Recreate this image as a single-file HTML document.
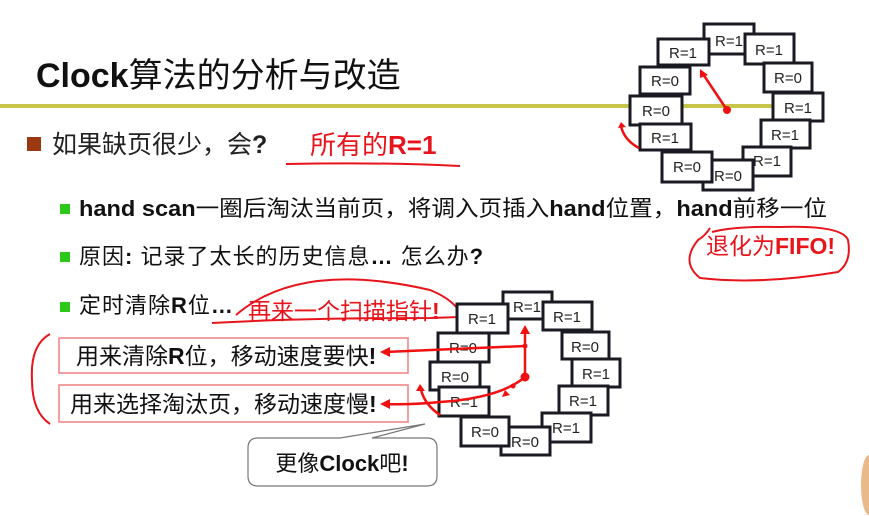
<!DOCTYPE html>
<html><head><meta charset="utf-8"><style>
body{margin:0;background:#fff;}
svg{display:block;font-family:"Liberation Sans","Noto Sans CJK SC",sans-serif;}
.b{fill:#fff;stroke:#1a1a22;stroke-width:3;}
.t{font-size:15px;fill:#222;text-anchor:middle;}
</style></head><body>
<svg width="869" height="516" viewBox="0 0 869 516">
<rect width="869" height="516" fill="#fff"/>
<text x="36" y="87" font-size="34" font-weight="bold" fill="#111">Clock<tspan font-weight="normal">算法的分析与改造</tspan></text>
<rect x="0" y="104" width="822" height="4" fill="#c7c54c"/>
<rect x="27" y="137" width="14" height="14" fill="#9b3a10"/>
<text x="52" y="153" font-size="25" fill="#222">如果缺页很少，会<tspan font-weight="bold">?</tspan></text>
<text x="310" y="154" font-size="26" fill="#e8141c">所有的<tspan font-weight="bold">R=1</tspan></text>
<path d="M286 164 Q380 162 460 166" stroke="#e8141c" stroke-width="2" fill="none"/>
<rect x="60" y="204" width="10" height="10" fill="#2ec81a"/>
<text x="79" y="216" font-size="22" fill="#111" textLength="748" lengthAdjust="spacingAndGlyphs"><tspan font-weight="bold">hand scan</tspan>一圈后淘汰当前页，将调入页插入<tspan font-weight="bold">hand</tspan>位置，<tspan font-weight="bold">hand</tspan>前移一位</text>
<rect x="60" y="252" width="10" height="10" fill="#2ec81a"/>
<text x="79" y="264" font-size="22" letter-spacing="1" fill="#111">原因<tspan font-weight="bold">:</tspan> 记录了太长的历史信息<tspan font-weight="bold">…</tspan> 怎么办<tspan font-weight="bold">?</tspan></text>
<rect x="60" y="302" width="10" height="10" fill="#2ec81a"/>
<text x="79" y="313" font-size="22" letter-spacing="1" fill="#111">定时清除<tspan font-weight="bold">R</tspan>位<tspan font-weight="bold">…</tspan></text>
<text x="248" y="319" font-size="23" fill="#e8141c">再来一个扫描指针<tspan font-weight="bold">!</tspan></text>
<path d="M236 315 Q300 260 430 290 Q455 300 462 316" stroke="#e8141c" stroke-width="2" fill="none"/>
<path d="M212 323 Q300 318 430 318 L460 317" stroke="#e8141c" stroke-width="2" fill="none"/>
<path d="M710 228 Q705 236 698 240 Q680 262 700 278 Q760 285 838 272 Q852 262 848 240 Q842 225 780 227 Q735 226 712 232" stroke="#e8141c" stroke-width="2" fill="none"/>
<text x="706" y="254" font-size="23" fill="#e8141c">退化为<tspan font-weight="bold">FIFO!</tspan></text>
<path d="M50 334 Q30 345 32 380 Q32 412 50 424" stroke="#e8141c" stroke-width="2" fill="none"/>
<rect x="59" y="338" width="349" height="35" fill="#fff" stroke="#f08080" stroke-width="1.5"/>
<text x="76" y="364" font-size="23" fill="#111">用来清除<tspan font-weight="bold">R</tspan>位，移动速度要快<tspan font-weight="bold">!</tspan></text>
<rect x="59" y="385" width="349" height="37" fill="#fff" stroke="#f08080" stroke-width="1.5"/>
<text x="70" y="412" font-size="23" fill="#111">用来选择淘汰页，移动速度慢<tspan font-weight="bold">!</tspan></text>
<path d="M258 438 L340 438 L425 424 L372 438 L427 438 Q437 438 437 448 L437 476 Q437 486 427 486 L258 486 Q248 486 248 476 L248 448 Q248 438 258 438Z" fill="#fff" stroke="#777" stroke-width="1.2"/>
<text x="342" y="471" font-size="22" fill="#111" text-anchor="middle">更像<tspan font-weight="bold">Clock</tspan>吧<tspan font-weight="bold">!</tspan></text>
<!-- top clock -->
<g>
<rect class="b" x="704" y="24" width="50" height="30"/><text class="t" x="729" y="46">R=1</text>
<rect class="b" x="745" y="34" width="49" height="30"/><text class="t" x="769" y="55">R=1</text>
<rect class="b" x="658" y="39" width="51" height="26"/><text class="t" x="683" y="58">R=1</text>
<rect class="b" x="640" y="67" width="50" height="27"/><text class="t" x="665" y="86">R=0</text>
<rect class="b" x="764" y="63" width="48" height="29"/><text class="t" x="788" y="83">R=0</text>
<rect class="b" x="630" y="96" width="52" height="29"/><text class="t" x="656" y="116">R=0</text>
<rect class="b" x="773" y="93" width="50" height="28"/><text class="t" x="798" y="113">R=1</text>
<rect class="b" x="640" y="124" width="51" height="26"/><text class="t" x="665" y="143">R=1</text>
<rect class="b" x="761" y="120" width="49" height="28"/><text class="t" x="785" y="140">R=1</text>
<rect class="b" x="743" y="147" width="48" height="29"/><text class="t" x="767" y="166">R=1</text>
<rect class="b" x="703" y="160" width="50" height="30"/><text class="t" x="728" y="181">R=0</text>
<rect class="b" x="662" y="152" width="50" height="30"/><text class="t" x="687" y="172">R=0</text>
<line x1="727" y1="110" x2="703" y2="74" stroke="#f01010" stroke-width="2.5"/>
<path d="M700 69 L708 75 L700 78Z" fill="#f01010"/>
<circle cx="727" cy="110" r="4" fill="#f01010"/>
<path d="M639 148 Q624 140 621 126" stroke="#f01010" stroke-width="2.5" fill="none"/>
<path d="M618 128 L621 122 L626 127Z" fill="#f01010"/>
</g>
<!-- bottom clock -->
<g>
<rect class="b" x="503" y="292" width="49" height="27"/><text class="t" x="527" y="312">R=1</text>
<rect class="b" x="543" y="302" width="49" height="28"/><text class="t" x="567" y="322">R=1</text>
<rect class="b" x="457" y="304" width="51" height="29"/><text class="t" x="482" y="324">R=1</text>
<rect class="b" x="438" y="333" width="51" height="29"/><text class="t" x="463" y="353">R=0</text>
<rect class="b" x="562" y="332" width="47" height="27"/><text class="t" x="585" y="352">R=0</text>
<rect class="b" x="430" y="362" width="50" height="28"/><text class="t" x="455" y="382">R=0</text>
<rect class="b" x="572" y="359" width="48" height="28"/><text class="t" x="596" y="379">R=1</text>
<rect class="b" x="439" y="387" width="50" height="29"/><text class="t" x="464" y="407">R=1</text>
<rect class="b" x="559" y="386" width="49" height="29"/><text class="t" x="583" y="406">R=1</text>
<rect class="b" x="542" y="413" width="49" height="29"/><text class="t" x="566" y="433">R=1</text>
<rect class="b" x="501" y="427" width="49" height="28"/><text class="t" x="525" y="447">R=0</text>
<rect class="b" x="461" y="417" width="48" height="29"/><text class="t" x="485" y="437">R=0</text>
<g stroke="#f01010" stroke-width="2.5" fill="none">
<line x1="525" y1="377" x2="525" y2="332"/>
<path d="M525 346 Q460 349 385 352"/>
<path d="M525 377 Q500 398 440 402 Q410 405 385 404"/>
<path d="M440 415 Q425 405 421 390"/>
</g>
<path d="M520 334 L525 325 L530 334Z" fill="#f01010"/>
<path d="M390 347 L380 352 L390 357Z" fill="#f01010"/>
<path d="M390 399 L380 404 L390 409Z" fill="#f01010"/>
<path d="M416 391 L420 384 L425 391Z" fill="#f01010"/>
<path d="M505 390 L502 397 L510 395Z" fill="#f01010"/>
<circle cx="525" cy="377" r="4.5" fill="#f01010"/>
<circle cx="525" cy="346" r="2.5" fill="#f01010"/>
<circle cx="513" cy="386" r="2.5" fill="#f01010"/>
</g>
<ellipse cx="869" cy="485" rx="8" ry="30" fill="#e9b98a"/>
</svg>
</body></html>
